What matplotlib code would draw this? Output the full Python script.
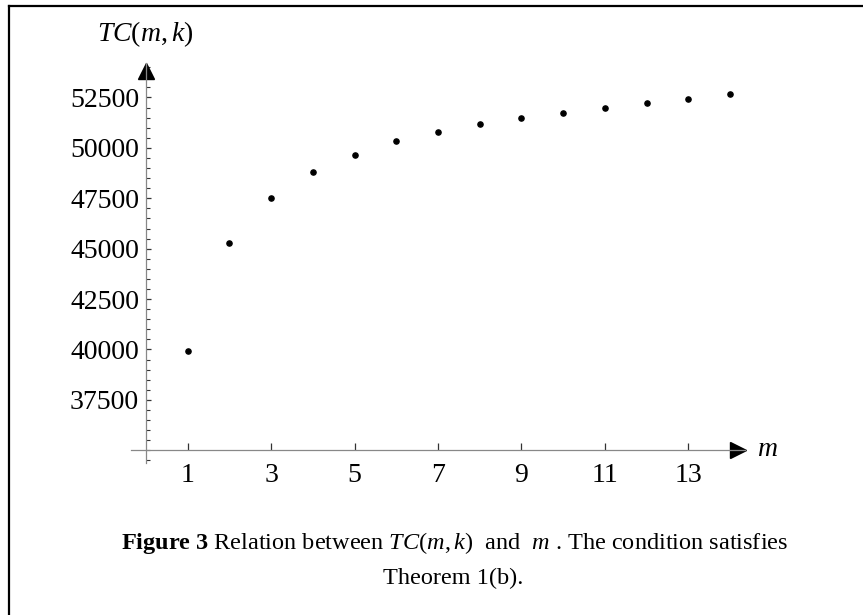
import matplotlib
matplotlib.use("Agg")
import matplotlib.pyplot as plt
from matplotlib.lines import Line2D
from matplotlib.ticker import MultipleLocator, FixedLocator

plt.rcParams['font.family'] = ['Liberation Serif', 'DejaVu Serif']
plt.rcParams['mathtext.fontset'] = 'custom'
plt.rcParams['mathtext.rm'] = 'Liberation Serif'
plt.rcParams['mathtext.it'] = 'Liberation Serif:italic'
plt.rcParams['mathtext.bf'] = 'Liberation Serif:bold'

# data
m_values = [1, 2, 3, 4, 5, 6, 7, 8, 9, 10, 11, 12, 13, 14]
tc_values = [39930, 45300, 47530, 48820, 49630, 50340, 50800,
             51170, 51500, 51750, 51980, 52210, 52440, 52670]
x_ticks = [1, 3, 5, 7, 9, 11, 13]
y_ticks = [37500, 40000, 42500, 45000, 47500, 50000, 52500]
y_label = r"$TC(m,k)$"
x_label = r"$m$"
caption1 = r"$\mathbf{Figure\ 3}$ Relation between $TC(m,k)$  and  $m$ . The condition satisfies"
caption2 = "Theorem 1(b)."

W, H = 863, 615
fig = plt.figure(figsize=(W / 100, H / 100), dpi=100)

# axes placement (pixels)
x0, x1 = 131, 745
y_top, y_bot = 63, 463
ax = fig.add_axes([x0 / W, 1 - y_bot / H, (x1 - x0) / W, (y_bot - y_top) / H])
ax.set_facecolor('none')

xmin, xmax = -0.36, 14.36
ymin, ymax = 34370, 54210
ax.set_xlim(xmin, xmax)
ax.set_ylim(ymin, ymax)

for s in ['top', 'right']:
    ax.spines[s].set_visible(False)
ax.spines['left'].set_position(('data', 0))
ax.spines['bottom'].set_position(('data', 35000))
for s in ['left', 'bottom']:
    ax.spines[s].set_color('#888888')
    ax.spines[s].set_linewidth(0.9)

ax.xaxis.set_major_locator(FixedLocator(x_ticks))
ax.yaxis.set_major_locator(FixedLocator(y_ticks))
ax.yaxis.set_minor_locator(MultipleLocator(500))
ax.tick_params(axis='x', direction='in', length=5, width=0.9, color='#333333',
               labelsize=20, pad=9)
ax.tick_params(axis='y', which='major', direction='in', length=3.5, width=0.9,
               color='#333333', labelsize=20, pad=5)
ax.tick_params(axis='y', which='minor', direction='in', length=3, width=0.8,
               color='#333333')

ax.scatter(m_values, tc_values, s=14, color='black', zorder=5, clip_on=False)

# arrowheads
px_per_y = (y_bot - y_top) / (ymax - ymin)
px_per_x = (x1 - x0) / (xmax - xmin)
ax.plot([0], [ymax - 7.5 / px_per_y], marker='^', markersize=11, color='black',
        clip_on=False, linestyle='none')
ax.plot([xmax - 7.5 / px_per_x], [35000], marker='>', markersize=11, color='black',
        clip_on=False, linestyle='none')

# axis labels
fig.text(145 / W, 1 - 34 / H, y_label, fontsize=20, ha='center', va='center')
fig.text(757 / W, 1 - 450 / H, x_label, fontsize=20, ha='left', va='center')

# caption
fig.text(455 / W, 1 - 543 / H, caption1, fontsize=17.5, ha='center', va='center')
fig.text(453 / W, 1 - 578 / H, caption2, fontsize=17.5, ha='center', va='center')

# border
fig.add_artist(Line2D([9 / W, 9 / W], [0, 1 - 6 / H], transform=fig.transFigure,
                      color='black', linewidth=1.6))
fig.add_artist(Line2D([9 / W, 1], [1 - 6 / H, 1 - 6 / H], transform=fig.transFigure,
                      color='black', linewidth=1.6))

fig.savefig("out.png", dpi=100)
